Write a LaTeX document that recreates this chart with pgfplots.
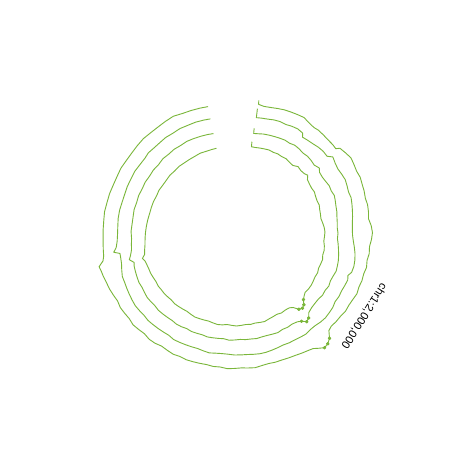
\documentclass[border=0pt]{standalone}
\usepackage{pgfplots}
\usepackage{pgfplotstable}
\usepackage{fontspec}
\setmainfont{Liberation Sans}
\pgfplotsset{compat=1.18}
\definecolor{trackgreen}{RGB}{122,182,58}

% t = clockwise angle from top (deg), r = radius (px of the 470px picture)
\pgfplotstableread{
t r
9.4 136.5
9.6 132.5
12 131.5
15 132
18 133
21 134
24 134.5
27 135
30 135.5
32 134
34 133
36 132.5
38 133
41 132.5
44 132
47 132
49 131.5
50 135
53 136.5
56 138
59 137
62 136
65 136.5
68 135.5
71 135
74 134
77 134.5
80 134
83 133
86 135
89 136
92 135
95 133.5
98 134
101 133
104 134
107 133
110 133.5
113 133
116 134
119 133
122 132.5
125 133
128 132
131 132
134 131.5
136 133
138 139
140 142
142 143
144 140
146 137
148 136
151 135
154 134
157 133.5
160 133
163 133
166 132.5
169 133
172 134
175 133.5
178 133
181 133.5
184 134
187 133
190 133.5
193 133
196 133.5
199 134
202 134.5
205 134
208 135
211 134.5
214 134
217 135.5
220 136
223 135
226 136
229 137
232 136
235 136.5
238 137
241 136
244 137
247 138
250 138.5
253 139.5
255 140
257 141
259 136
261 134.5
264 134
268 133.5
272 133.5
276 133.5
280 134
284 133.5
288 133.5
292 133
296 133
300 133.5
304 133
308 133
312 133.5
316 134
320 133.5
324 133.5
328 134
332 134.5
336 133
340 132.5
344 132
347.5 131.5
}\ringD

\pgfplotstableread{
t r
9.4 128
9.6 119
12 119.5
15 120
18 121
21 121.5
24 121
27 122
30 122.5
33 121.5
34 118
37 118.5
40 119
43 120
46 120.5
49 120
51 124
54 122
57 121
60 121.5
63 122
66 121
69 120
72 120.5
75 119.5
78 118.5
81 117.5
84 116.5
87 116
90 116
93 117
96 118.5
99 120
102 121
105 121.5
108 121
110 118.5
112 120
115 119.5
118 119
121 119.5
124 119
127 120.5
130 121
133 121.5
136 121
139 120
142 120
145 121
148 120.5
151 120
154 120
157 119.5
160 120
163 120.5
166 121
169 121
172 120.5
175 120
178 120
181 120
184 119.5
187 119.5
190 120
193 121
196 120.5
199 120
202 120.5
205 121
208 121.5
211 122
214 121
217 121.5
220 122
223 122.5
226 123
229 122.5
232 123
235 123.5
238 123
241 122.5
244 122
247 121.5
250 121.5
253 120
256 118.5
259 118
261 118
262 124
264 121
267 119.5
270 119
274 119
278 119.5
282 119.5
286 119
290 119
294 119.5
298 119.5
302 120
306 119.5
310 119.5
313 120.5
316 120
320 120
324 120.5
328 120
332 120.5
336 120
340 120
344 119.5
347.3 119
}\ringC

\pgfplotstableread{
t r
9.4 108
9.6 103
12 103.5
15 104.5
18 105
21 105.5
24 106
27 106.5
30 106
33 107
36 106.5
39 105.5
42 106
45 105.5
48 104.5
51 106.5
53 104
56 103.5
59 104
62 105
65 104.5
68 105.5
71 104.5
74 103.5
77 103
80 102
83 101.5
86 101
89 101.5
92 101
95 102
98 103
101 104
104 105
107 105.5
110 106
113 105
116 104.5
119 105.5
122 104.5
125 105
128 104
131 104
134 104.5
137 106
139 110
141 111.5
143 108
145 106
148 105
151 105.5
154 105
157 106
160 105.5
163 105
166 105
169 105.5
172 105
175 105
178 104.5
181 105
184 105.5
187 104.5
190 105
193 105.5
196 106
199 105.5
202 106
205 106.5
208 106
211 107
214 107.5
217 107
220 107.5
223 108
226 108.5
229 108
232 108.5
235 109
238 108.5
241 108
244 108.5
247 108
250 107.5
253 107
255 106
257 110
259 108
262 106
265 105.5
268 105
272 105.5
276 105
280 105
284 105.5
288 105
292 105.5
296 105
300 105.5
304 105
308 105.5
312 105
316 106
320 105.5
324 106
328 105.5
332 106
336 105.5
340 105
344 104.5
347.2 104
}\ringB

\pgfplotstableread{
t r
9.4 94.5
9.6 89.5
12 89.5
15 90
18 90.5
21 91
24 90.5
27 91
30 90.5
33 91
36 90
39 89.5
42 92
45 91
48 91.5
50 93
52 90
55 89
58 88.5
61 89
64 88
67 87.5
70 88
73 87
76 86.5
79 86
82 87
85 88
88 88.5
91 88
94 87.5
97 88.5
100 89
103 88.5
106 89.5
109 89
112 88.5
115 89.5
118 89
121 89.5
124 90
127 90
130 89.5
132 91
134 93
136 97
138 98.5
140 97
142 92
144 90
147 89.5
150 90
153 89
156 89.5
159 90
162 91
165 90.5
168 90
171 90.5
174 90
177 90.5
180 91
183 90.5
186 90
189 91
192 91.5
195 91
198 90.5
201 91
204 91.5
207 92
210 91.5
213 91
216 91.5
219 92
222 92.5
225 92
228 92.5
231 93
234 93
237 93.5
240 93
243 93.5
246 94
249 94
252 94.5
254 95
256 97
258 94
261 93
264 92
268 91.5
272 91
276 90.5
280 90
284 89.5
288 89.5
292 89.5
296 89
300 89.5
304 89
308 89
312 89.5
316 89
320 89.5
324 89
328 89
332 89
336 89.5
340 89
344 89
347 89
}\ringA

\begin{document}
\begin{tikzpicture}
\begin{axis}[
    width=10cm, height=10cm,
    scale only axis,
    hide axis,
    xmin=-236.5, xmax=233.5,
    ymin=-235, ymax=235,
    clip=false,
    every axis plot/.append style={trackgreen, line width=0.55pt, line join=round},
]
\addplot[no markers] table[x expr={\thisrow{r}*sin(\thisrow{t})}, y expr={\thisrow{r}*cos(\thisrow{t})}] {\ringA};
\addplot[no markers] table[x expr={\thisrow{r}*sin(\thisrow{t})}, y expr={\thisrow{r}*cos(\thisrow{t})}] {\ringB};
\addplot[no markers] table[x expr={\thisrow{r}*sin(\thisrow{t})}, y expr={\thisrow{r}*cos(\thisrow{t})}] {\ringC};
\addplot[no markers] table[x expr={\thisrow{r}*sin(\thisrow{t})}, y expr={\thisrow{r}*cos(\thisrow{t})}] {\ringD};
% dense spots drawn as dots
\addplot[only marks, mark=*, mark size=0.8pt, restrict expr to domain={\thisrow{t}}{133:141}]
  table[x expr={\thisrow{r}*sin(\thisrow{t})}, y expr={\thisrow{r}*cos(\thisrow{t})}] {\ringA};
\addplot[only marks, mark=*, mark size=0.8pt, restrict expr to domain={\thisrow{t}}{138:143}]
  table[x expr={\thisrow{r}*sin(\thisrow{t})}, y expr={\thisrow{r}*cos(\thisrow{t})}] {\ringB};
\addplot[only marks, mark=*, mark size=0.8pt, restrict expr to domain={\thisrow{t}}{137:143}]
  table[x expr={\thisrow{r}*sin(\thisrow{t})}, y expr={\thisrow{r}*cos(\thisrow{t})}] {\ringD};
\node[rotate=-122.4, font=\fontsize{6.8}{8}\selectfont, text=black] at (axis cs:127.5,-80.9) {chr1:2,000,000};
\end{axis}
\path (current axis.south west) rectangle (current axis.north east);
\end{tikzpicture}
\end{document}
